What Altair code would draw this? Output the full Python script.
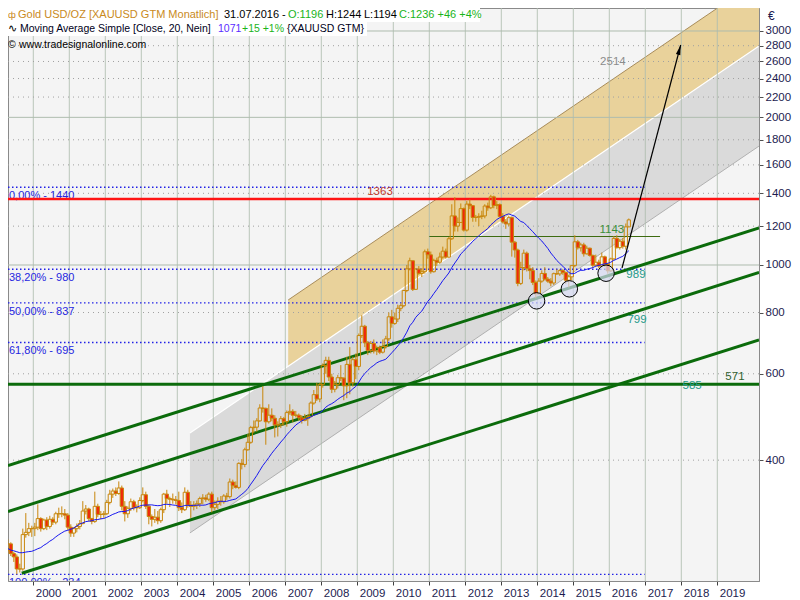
import altair as alt
import pandas as pd

# ---------------- data ----------------
# closes Aug 1997 - Feb 1999, only used to seed the 20-month moving average
warmup_close = [301, 296, 273, 262, 264, 281, 270, 279, 282, 264, 269, 262,
                244, 248, 243, 253, 246, 254, 261]

# monthly candles Mar 1999 - Jul 2016
close = [
    262, 270, 258, 254, 240, 240, 282, 285, 290, 290,                     # 1999 Mar-Dec
    292, 304, 290, 302, 293, 303, 299, 311, 311, 311, 309, 292,           # 2000
    284, 290, 293, 297, 315, 318, 304, 300, 322, 310, 310, 311,           # 2001
    328, 341, 346, 342, 351, 322, 311, 319, 329, 320, 320, 331,           # 2002
    340, 322, 307, 303, 306, 301, 317, 341, 334, 333, 332, 331,           # 2003
    320, 317, 344, 324, 322, 324, 326, 334, 335, 333, 341, 320,           # 2004
    325, 330, 329, 338, 337, 361, 355, 352, 394, 392, 420, 435,           # 2005
    466, 467, 481, 511, 510, 479, 494, 487, 472, 472, 486, 479,           # 2006
    500, 503, 494, 494, 488, 482, 486, 491, 523, 544, 533, 571,           # 2007
    624, 639, 591, 558, 571, 589, 588, 567, 627, 575, 641, 621,           # 2008
    718, 750, 694, 669, 692, 668, 678, 664, 682, 707, 784, 760,           # 2009
    776, 816, 826, 887, 982, 1020, 892, 981, 961, 969, 1064, 1049,        # 2010
    969, 1022, 1013, 1038, 1067, 1038, 1131, 1259, 1200, 1221, 1303, 1178,  # 2011
    1331, 1321, 1250, 1251, 1256, 1259, 1319, 1308, 1377, 1322, 1328, 1256, # 2012
    1224, 1213, 1249, 1113, 1073, 917, 988, 1057, 983, 974, 921, 873,     # 2013
    927, 961, 936, 927, 919, 960, 959, 974, 965, 931, 946, 997,           # 2014
    1115, 1084, 1099, 1054, 1082, 1046, 999, 1013, 995, 1039, 1004, 973,  # 2015
    1029, 1133, 1085, 1118, 1092, 1196, 1236,                             # 2016 Jan-Jul
]
high = [
    268, 276, 272, 260, 257, 246, 290, 312, 298, 294,
    298, 325, 306, 304, 306, 308, 306, 314, 320, 322, 318, 312,
    296, 292, 297, 302, 330, 324, 320, 305, 345, 326, 315, 315,
    332, 348, 350, 352, 362, 355, 330, 322, 334, 332, 325, 336,
    352, 345, 325, 310, 318, 315, 320, 343, 348, 337, 342, 338,
    345, 328, 352, 348, 330, 330, 331, 337, 341, 340, 344, 345,
    331, 336, 338, 341, 343, 367, 365, 362, 396, 402, 424, 452,
    470, 482, 487, 520, 566, 512, 520, 510, 494, 480, 492, 490,
    505, 520, 508, 504, 498, 494, 497, 495, 527, 556, 575, 575,
    630, 650, 650, 600, 580, 597, 625, 590, 650, 680, 650, 660,
    725, 790, 755, 700, 700, 705, 685, 685, 705, 717, 800, 810,
    800, 830, 835, 890, 1000, 1035, 1022, 985, 995, 985, 1075, 1080,
    1065, 1030, 1035, 1060, 1090, 1080, 1140, 1330, 1375, 1250, 1335, 1310,
    1350, 1360, 1325, 1265, 1275, 1290, 1330, 1340, 1390, 1385, 1350, 1335,
    1275, 1240, 1260, 1255, 1120, 1080, 1015, 1075, 1065, 1000, 990, 930,
    940, 975, 990, 945, 940, 965, 980, 980, 980, 970, 955, 1000,
    1150, 1125, 1110, 1110, 1095, 1085, 1050, 1050, 1025, 1060, 1045, 1010,
    1035, 1145, 1150, 1130, 1135, 1215, 1244,
]
low = [
    255, 258, 255, 248, 234, 236, 238, 278, 280, 279,
    280, 288, 286, 288, 288, 290, 295, 296, 305, 306, 303, 288,
    279, 279, 285, 289, 296, 310, 300, 296, 298, 306, 303, 305,
    309, 325, 335, 338, 340, 316, 300, 305, 315, 316, 313, 318,
    328, 318, 296, 293, 298, 296, 298, 312, 326, 321, 326, 325,
    315, 312, 315, 320, 305, 316, 318, 321, 325, 329, 330, 313,
    316, 318, 323, 326, 332, 334, 349, 350, 349, 383, 387, 418,
    432, 454, 457, 479, 500, 430, 475, 480, 445, 447, 465, 470,
    468, 495, 478, 489, 482, 475, 480, 470, 488, 519, 528, 525,
    562, 600, 580, 548, 550, 560, 580, 530, 535, 545, 565, 585,
    610, 710, 680, 655, 660, 660, 655, 658, 660, 675, 700, 745,
    755, 765, 805, 820, 880, 975, 885, 890, 955, 945, 960, 1030,
    960, 965, 995, 1005, 1030, 1030, 1035, 1125, 1170, 1170, 1220, 1170,
    1170, 1300, 1225, 1225, 1200, 1240, 1245, 1290, 1300, 1305, 1300, 1250,
    1215, 1185, 1200, 1040, 1035, 905, 910, 975, 970, 935, 910, 855,
    870, 920, 930, 920, 905, 910, 955, 950, 955, 915, 900, 930,
    990, 1075, 1065, 1040, 1050, 1040, 985, 990, 985, 990, 990, 960,
    968, 1025, 1080, 1075, 1080, 1075, 1194,
]

years = list(range(2000, 2020))
price_ticks = [400, 600, 800, 1000, 1200, 1400, 1600, 1800, 2000, 2200, 2400, 2600, 2800, 3000]
major_levels = [1000, 2000, 3000]

fib_labels = ["0,00% - 1440", "38,20% - 980", "50,00% - 837", "61,80% - 695", "100,00% - 234"]
fib_values = [1440, 980, 837, 695, 234]

resistance_high = 1363
support_flat = 571
level_1143 = 1143

# channel lines: (start year, start price, end year, end price)
green_lines = {
    "t1": [1999.297, 1999.297, 1999.68, 1999.297],
    "p1": [390.1, 314.3, 235.2, 571],
    "t2": [2020.16, 2020.16, 2020.16, 2020.16],
    "p2": [1189.7, 965.4, 703.2, 571],
}
grey_band = {"t": [2004.35, 2020.16], "lo": [284.2, 1748.0], "hi": [454.4, 2796.0]}
gold_band = {"t": [2007.08, 2020.16], "lo": [621.5, 2796.0], "hi": [848.5, 3816.0]}

circle_t = [2013.98, 2014.89, 2015.91]
circle_p = [845, 894, 962]

arrow = {"t1": [2016.353], "p1": [986], "t2": [2017.983], "p2": [2809]}
arrow_head = {"t": [2017.947], "p": [2746]}

ann_text = ["1363", "2514", "1143", "989", "799", "585", "571"]
ann_t = [2009.63, 2016.10, 2016.07, 2016.74, 2016.77, 2018.30, 2019.49]
ann_p = [1409, 2594, 1179, 954, 772, 567, 591]
ann_color = ["#c0392b", "#8c8c8c", "#3a8f3a", "#1f9a8a", "#1f9a8a", "#1f9a8a", "#2e5e2e"]

# ---------------- tables ----------------
opens = [warmup_close[-1]] + close[:-1]
all_close = pd.Series(warmup_close + close, dtype=float)
ma = all_close.rolling(20).mean().iloc[len(warmup_close):].to_numpy()

n = len(close)
t = [1999 + (2 + i + 0.5) / 12 for i in range(n)]
df = pd.DataFrame({"t": t, "o": opens, "h": high, "l": low, "c": close, "ma": ma})
df["top"] = df[["o", "c"]].max(axis=1)
df["bot"] = df[["o", "c"]].min(axis=1)
df["x1"] = df["t"] - 0.045
df["x2"] = df["t"] + 0.045

X0, X1 = 1999.297, 2020.158
Y0, Y1 = 226.8, 3342.0
W, H = 751, 573

xs = alt.Scale(domain=[X0, X1], nice=False, zero=False)
ys = alt.Scale(type="log", domain=[Y0, Y1], nice=False)
x_axis = alt.Axis(values=years, format="d", title=None, labelAlign="left", labelBaseline="top",
                  labelOffset=2, labelPadding=2, tickSize=4, tickColor="#404040",
                  domainColor="#8a8a8a", grid=False, labelFlush=False, labelOverlap=False)
y_axis = alt.Axis(orient="right", values=price_ticks, format="d", title=None, labelPadding=2,
                  tickSize=4, tickColor="#505050", domainColor="#8a8a8a", grid=False,
                  labelFlush=False, labelOverlap=False)


def X(f):
    return alt.X(f, type="quantitative", scale=xs, axis=x_axis)


def Y(f):
    return alt.Y(f, type="quantitative", scale=ys, axis=y_axis)


def seg(data, **kw):
    return alt.Chart(pd.DataFrame(data)).mark_rule(clip=True, **kw).encode(
        x=X("t1"), x2="t2", y=Y("p1"), y2="p2")


layers = []

# bands
layers.append(alt.Chart(pd.DataFrame(grey_band)).mark_area(color="#dadada", clip=True, opacity=1)
              .encode(x=X("t"), y=Y("lo"), y2="hi"))
layers.append(alt.Chart(pd.DataFrame(gold_band)).mark_area(color="#e9d29b", clip=True, opacity=1)
              .encode(x=X("t"), y=Y("lo"), y2="hi"))
layers.append(seg({"t1": [grey_band["t"][0]], "p1": [grey_band["lo"][0]],
                   "t2": [grey_band["t"][1]], "p2": [grey_band["lo"][1]]}, color="#b0b0b0", strokeWidth=1))
layers.append(seg({"t1": [grey_band["t"][0]], "p1": [grey_band["hi"][0]],
                   "t2": [grey_band["t"][1]], "p2": [grey_band["hi"][1]]}, color="#ffffff", strokeWidth=1.2))
layers.append(seg({"t1": [gold_band["t"][0]], "p1": [gold_band["hi"][0]],
                   "t2": [gold_band["t"][1]], "p2": [gold_band["hi"][1]]}, color="#a88c5a", strokeWidth=1))

# grid
layers.append(alt.Chart(pd.DataFrame({"yr": years})).mark_rule(color="#aebcae", strokeWidth=1, opacity=0.85)
              .encode(x=X("yr")))
layers.append(alt.Chart(pd.DataFrame({"p": [p for p in price_ticks if p not in major_levels]}))
              .mark_rule(color="#a0a0a0", strokeWidth=1, strokeDash=[1, 4]).encode(y=Y("p")))
layers.append(alt.Chart(pd.DataFrame({"p": major_levels})).mark_rule(color="#aebcae", strokeWidth=1)
              .encode(y=Y("p")))

# fibonacci levels
fib_df = pd.DataFrame({"t1": [X0] * len(fib_values), "p1": fib_values,
                       "t2": [2016.98] * len(fib_values), "p2": fib_values, "lab": fib_labels})
layers.append(seg(fib_df, color="#2020e6", strokeWidth=1.4, strokeDash=[1.5, 2.5]))
layers.append(alt.Chart(fib_df).mark_text(align="left", baseline="top", dx=1, dy=3, clip=True,
                                          font="Liberation Sans", fontSize=11, color="#2626e0")
              .encode(x=X("t1"), y=Y("p1"), text="lab"))

# red resistance
layers.append(seg({"t1": [X0], "p1": [resistance_high], "t2": [X1], "p2": [resistance_high]},
                  color="#ff1414", strokeWidth=2.5))
# green channel lines
layers.append(seg(green_lines, color="#0b6b0b", strokeWidth=3))
# 1143 line
layers.append(seg({"t1": [2011.0], "p1": [level_1143], "t2": [2017.41], "p2": [level_1143]},
                  color="#3d6b10", strokeWidth=1.2))

# candles
layers.append(alt.Chart(df).mark_rule(color="#c8870c", strokeWidth=1, clip=True)
              .encode(x=X("t"), y=Y("h"), y2="top"))
layers.append(alt.Chart(df).mark_rule(color="#c8870c", strokeWidth=1, clip=True)
              .encode(x=X("t"), y=Y("bot"), y2="l"))
layers.append(alt.Chart(df).mark_rect(fill="#f0280a", stroke="#c8870c", strokeWidth=1, clip=True)
              .encode(x=X("x1"), x2="x2", y=Y("top"), y2="bot",
                      fillOpacity=alt.condition(alt.datum.c < alt.datum.o, alt.value(1), alt.value(0))))

# moving average
layers.append(alt.Chart(df).mark_line(color="#1818f0", strokeWidth=1, clip=True)
              .encode(x=X("t"), y=Y("ma")))

# circles
layers.append(alt.Chart(pd.DataFrame({"t": circle_t, "p": circle_p}))
              .mark_circle(size=270, fill="#d3d7ef", fillOpacity=0.7, stroke="#000000",
                           strokeWidth=1, strokeOpacity=1, opacity=1)
              .encode(x=X("t"), y=Y("p")))

# arrow
layers.append(seg(arrow, color="#000000", strokeWidth=1.2))
layers.append(alt.Chart(pd.DataFrame(arrow_head))
              .mark_point(shape="M0,-1L0.45,1L-0.45,1Z", filled=True, color="#000000",
                          size=100, angle=15, opacity=1)
              .encode(x=X("t"), y=Y("p")))

# value annotations
layers.append(alt.Chart(pd.DataFrame({"t": ann_t, "p": ann_p, "s": ann_text, "col": ann_color}))
              .mark_text(align="center", baseline="middle", font="Liberation Sans", fontSize=11.5)
              .encode(x=X("t"), y=Y("p"), text="s", color=alt.Color("col:N", scale=None)))

# header
one = pd.DataFrame({"a": [0]})


def box(x2, y1, y2):
    return alt.Chart(one).mark_rect(color="#ffffff").encode(
        x=alt.value(0), x2=alt.value(x2), y=alt.value(y1), y2=alt.value(y2))


def ptxt(s, px, py, color, size=10.5):
    return alt.Chart(one).mark_text(align="left", baseline="middle", font="Liberation Sans",
                                    fontSize=size, color=color).encode(
        x=alt.value(px), y=alt.value(py), text=alt.value(s))


L1, L2, L3 = 7, 21, 37
layers += [
    box(472, 0, 14), box(359, 14, 28),
    ptxt("ф", 0, L1, "#c98a1c", 9.5),
    ptxt("Gold USD/OZ [XAUUSD GTM  Monatlich]", 10, L1, "#c98a1c", 11),
    ptxt("31.07.2016 -", 216, L1, "#000000", 11),
    ptxt("O:1196", 280, L1, "#19b419", 11),
    ptxt("H:1244", 318, L1, "#000000", 11),
    ptxt("L:1194", 356, L1, "#000000", 11),
    ptxt("C:1236 +46 +4%", 391, L1, "#19b419", 11),
    ptxt("∿", 0, L2, "#000000"),
    ptxt("Moving Average Simple [Close, 20, Nein]", 12, L2, "#000020"),
    ptxt("1071", 210, L2, "#5a2cff"),
    ptxt("+15 +1%", 234, L2, "#19b419"),
    ptxt("{XAUUSD GTM}", 279, L2, "#000020"),
    ptxt("©", 0, L3, "#000000"),
    ptxt("www.tradesignalonline.com", 11, L3, "#000000"),
    ptxt("€", 760, 8, "#1c1c50", 12),
]

chart = alt.layer(*layers).properties(
    width=W, height=H,
    autosize=alt.AutoSizeParams(type="none"),
    padding={"left": 0, "top": 0, "right": 33, "bottom": 17},
    background="#ffffff",
).configure_view(fill="#f4f4f4", stroke="#8a8a8a", strokeWidth=1).configure_axis(
    labelFont="Liberation Sans", labelFontSize=11.5, labelColor="#1c1c50")

chart.save("out.html", embed_options={"renderer": "svg", "actions": False})
